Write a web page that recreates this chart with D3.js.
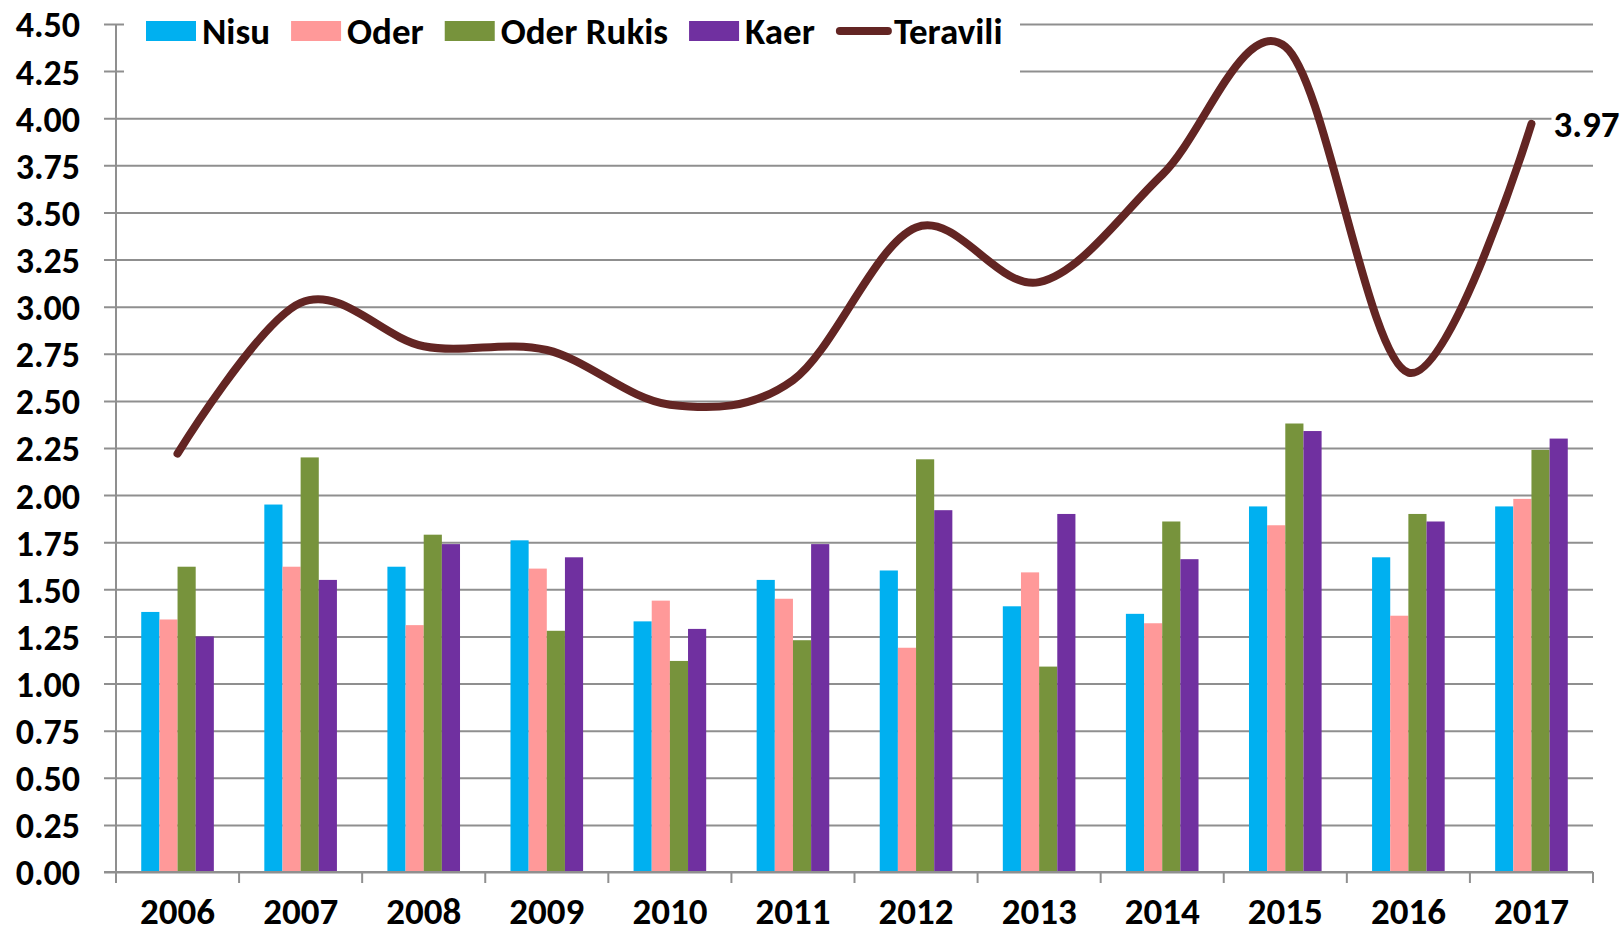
<!DOCTYPE html>
<html>
<head>
<meta charset="utf-8">
<script src="https://cdn.jsdelivr.net/npm/d3@7/dist/d3.min.js"></script>
<style>
  body { margin: 0; background: #fff; }
  text { font-family: Carlito, Lato, "Liberation Sans", sans-serif; font-weight: bold; fill: #000; }
</style>
</head>
<body>
<svg id="chart" width="1624" height="934"></svg>
<script>
// data
const years = ["2006", "2007", "2008", "2009", "2010", "2011", "2012", "2013", "2014", "2015", "2016", "2017"];
const seriesNames = ["Nisu", "Oder", "Oder Rukis", "Kaer"];
const nisu = [1.38, 1.95, 1.62, 1.76, 1.33, 1.55, 1.60, 1.41, 1.37, 1.94, 1.67, 1.94];
const oder = [1.34, 1.62, 1.31, 1.61, 1.44, 1.45, 1.19, 1.59, 1.32, 1.84, 1.36, 1.98];
const oderRukis = [1.62, 2.20, 1.79, 1.28, 1.12, 1.23, 2.19, 1.09, 1.86, 2.38, 1.90, 2.24];
const kaer = [1.25, 1.55, 1.74, 1.67, 1.29, 1.74, 1.92, 1.90, 1.66, 2.34, 1.86, 2.30];
const teravili = [2.22, 3.02, 2.79, 2.77, 2.48, 2.61, 3.42, 3.13, 3.70, 4.38, 2.65, 3.97];
const yTicks = [0, 0.25, 0.5, 0.75, 1, 1.25, 1.5, 1.75, 2, 2.25, 2.5, 2.75, 3, 3.25, 3.5, 3.75, 4, 4.25, 4.5];
const colors = ["#00B0F0", "#FF9999", "#77933C", "#7030A0"];
const lineColor = "#632523";

const barSeries = [nisu, oder, oderRukis, kaer];
const margin = { top: 24, right: 31, bottom: 62, left: 116 };
const width = 1624, height = 934;
const gridColor = "#8f8f8f";
const fontSize = 37;

const svg = d3.select("#chart");

const x = d3.scaleBand().domain(years).range([margin.left, width - margin.right]);
const xs = d3.scaleBand().domain(seriesNames).range([0, x.bandwidth()]).paddingOuter(1.39);
const y = d3.scaleLinear().domain([0, 4.5]).range([height - margin.bottom, margin.top]);

// gridlines + y labels
const yAxis = svg.append("g")
  .attr("transform", `translate(${margin.left - 12},0)`)
  .call(d3.axisLeft(y).tickValues(yTicks).tickFormat(d3.format(".2f"))
    .tickSize(-(width - margin.right - margin.left + 12)).tickPadding(24));
yAxis.select(".domain").remove();
yAxis.selectAll(".tick line").attr("stroke", gridColor).attr("stroke-width", 2);
yAxis.selectAll(".tick text").attr("font-size", 36).attr("font-family", null).attr("dy", "0.36em");

// legend box hides the two top gridlines
svg.append("rect").attr("x", margin.left + 8).attr("y", 0)
  .attr("width", 1020 - margin.left - 8).attr("height", 82).attr("fill", "#fff");

// bars
const rows = years.map((yr, i) => ({ year: yr, vals: barSeries.map(s => s[i]) }));
svg.append("g").selectAll("g").data(rows).join("g")
  .attr("transform", d => `translate(${x(d.year)},0)`)
  .selectAll("rect").data(d => d.vals.map((v, j) => ({ name: seriesNames[j], v, j })))
  .join("rect")
  .attr("x", d => xs(d.name))
  .attr("width", xs.bandwidth())
  .attr("y", d => y(d.v))
  .attr("height", d => y(0) - y(d.v))
  .attr("fill", d => colors[d.j]);

// axes lines
svg.append("line").attr("x1", margin.left).attr("x2", margin.left)
  .attr("y1", y(4.5)).attr("y2", y(0) + 11).attr("stroke", gridColor).attr("stroke-width", 2);
svg.append("line").attr("x1", margin.left - 12).attr("x2", width - margin.right)
  .attr("y1", y(0)).attr("y2", y(0)).attr("stroke", gridColor).attr("stroke-width", 2);
const bounds = years.map(d => x(d)).concat([x.range()[1]]);
svg.append("g").selectAll("line").data(bounds).join("line")
  .attr("x1", d => d).attr("x2", d => d)
  .attr("y1", y(0)).attr("y2", y(0) + 11)
  .attr("stroke", gridColor).attr("stroke-width", 2);

// x labels
const xAxis = svg.append("g")
  .attr("transform", `translate(0,${y(0)})`)
  .call(d3.axisBottom(x).tickSize(0));
xAxis.select(".domain").remove();
xAxis.selectAll(".tick text").attr("font-size", fontSize).attr("font-family", null)
  .attr("y", 52).attr("dy", null);

// Teravili line
const pts = years.map((yr, i) => [x(yr) + x.bandwidth() / 2, y(teravili[i])]);
svg.append("path")
  .attr("d", d3.line().curve(d3.curveCardinal.tension(0))(pts))
  .attr("fill", "none").attr("stroke", lineColor)
  .attr("stroke-width", 8).attr("stroke-linecap", "round").attr("stroke-linejoin", "round");

// end label
const last = pts[pts.length - 1];
const lbl = svg.append("g");
const lblText = lbl.append("text")
  .attr("x", last[0] + 22).attr("y", last[1]).attr("dy", "0.36em")
  .attr("font-size", fontSize).text(d3.format(".2f")(teravili[teravili.length - 1]));
const bb = lblText.node().getBBox();
lbl.insert("rect", "text").attr("x", bb.x - 2).attr("y", bb.y).attr("width", bb.width + 4)
  .attr("height", bb.height).attr("fill", "#fff");

// legend
const legend = svg.append("g");
let lx = 146;
const ly = 31;
const items = seriesNames.map((n, i) => ({ name: n, color: colors[i], type: "bar" }))
  .concat([{ name: "Teravili", color: lineColor, type: "line" }]);
items.forEach(it => {
  if (it.type === "bar") {
    legend.append("rect").attr("x", lx).attr("y", ly - 10).attr("width", 50).attr("height", 20)
      .attr("fill", it.color);
    lx += 56;
  } else {
    legend.append("line").attr("x1", lx + 4).attr("x2", lx + 52).attr("y1", ly).attr("y2", ly)
      .attr("stroke", it.color).attr("stroke-width", 8).attr("stroke-linecap", "round");
    lx += 58;
  }
  const t = legend.append("text").attr("x", lx).attr("y", ly).attr("dy", "0.36em")
    .attr("font-size", fontSize).text(it.name);
  lx += t.node().getComputedTextLength() + 21;
});
</script>
</body>
</html>
